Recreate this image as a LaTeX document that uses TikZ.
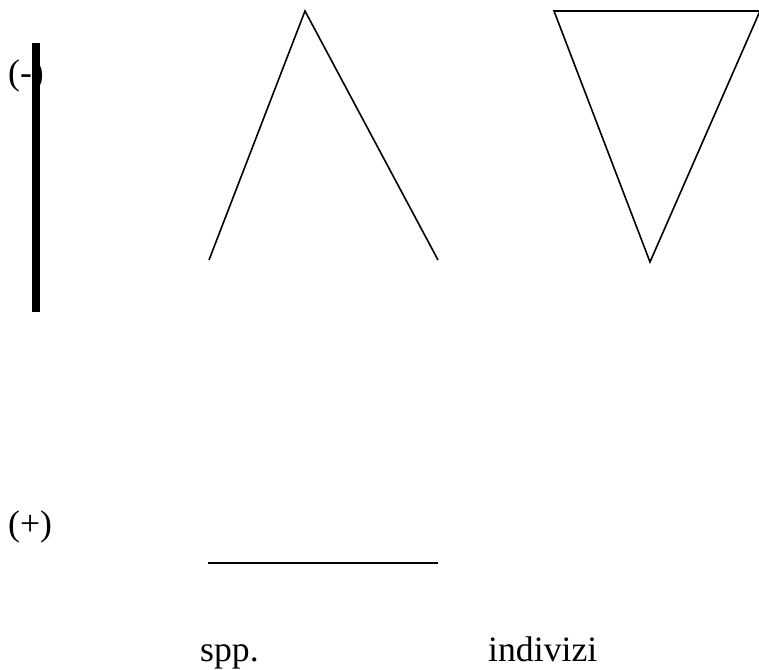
\documentclass[tikz,border=0pt]{standalone}
\usepackage{fontspec}
\setmainfont{Liberation Serif}
\begin{document}
\begin{tikzpicture}[x=1pt,y=-1pt,
  thin line/.style={line width=1.6pt,line join=miter},
  lbl/.style={inner sep=0pt,anchor=base west,font=\fontsize{35.7}{40}\selectfont}]
\useasboundingbox (0,0) rectangle (759,669);
% labels
\node[lbl] (minus) at (8,84) {(-)};
\node[lbl] (plus) at (8,535) {(+)};
\node[lbl] (spp) at (200,661) {spp.};
\node[lbl] (ind) at (488,661) {indivizi};
% thick bar
\coordinate (bt) at (36,43);
\coordinate (bb) at (36,312);
\draw[line width=8pt] (bt) -- (bb);
% open triangle
\coordinate (a1) at (209,260);
\coordinate (a2) at (305,11);
\coordinate (a3) at (438,260);
\draw[thin line] (a1) -- (a2) -- (a3);
% inverted triangle
\coordinate (v1) at (554,11);
\coordinate (v2) at (760,11);
\coordinate (v3) at (650,262);
\draw[thin line] (v1) -- (v2) -- (v3) -- cycle;
% horizontal line
\coordinate (h1) at (208,563);
\coordinate (h2) at (438,563);
\draw[thin line] (h1) -- (h2);
\end{tikzpicture}
\end{document}
